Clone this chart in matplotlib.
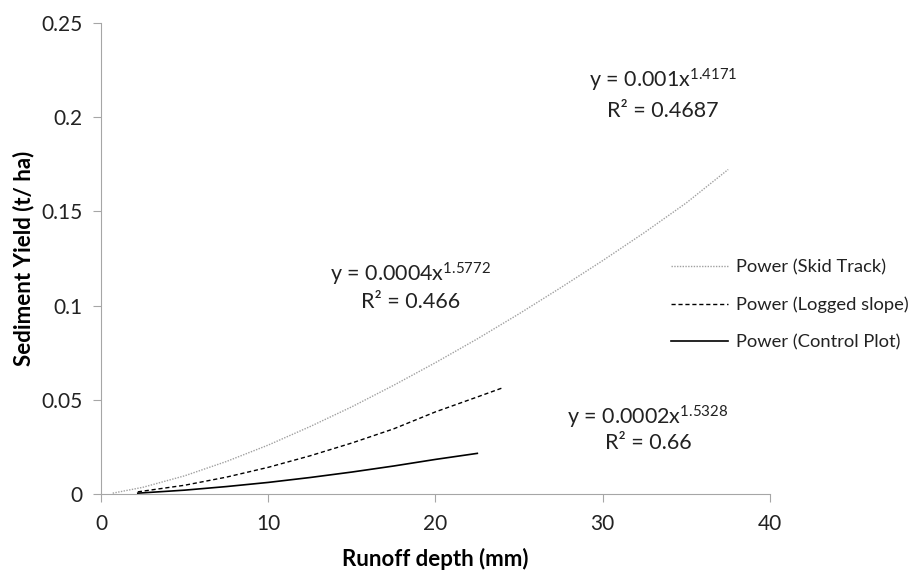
import matplotlib
matplotlib.use("Agg")
import matplotlib.pyplot as plt

plt.rcParams["font.family"] = ["Lato", "DejaVu Sans"]
plt.rcParams["mathtext.fontset"] = "custom"
plt.rcParams["mathtext.rm"] = "Lato"
plt.rcParams["mathtext.it"] = "Lato"

skid_x = [0.7, 2.5, 5, 7.5, 10, 12.5, 15, 17.5, 20, 22.5, 25, 27.5, 30, 32.5, 35, 37.5]
skid_y = [0.0006, 0.0037, 0.0098, 0.0174, 0.0261, 0.0359, 0.0464, 0.0578, 0.0698,
          0.0824, 0.0957, 0.1096, 0.1239, 0.1388, 0.1545, 0.1722]
logged_x = [2.2, 5, 7.5, 10, 12.5, 15, 17.5, 20, 22.5, 24]
logged_y = [0.0013, 0.0048, 0.0091, 0.0143, 0.0204, 0.0272, 0.0347, 0.0437, 0.0516, 0.0564]
control_x = [2.2, 5, 7.5, 10, 12.5, 15, 17.5, 20, 22.5]
control_y = [0.0006, 0.0022, 0.0041, 0.0063, 0.0089, 0.0118, 0.0150, 0.0185, 0.0217]

x_ticks = [0, 10, 20, 30, 40]
y_ticks = [0, 0.05, 0.1, 0.15, 0.2, 0.25]
y_labels = ["0", "0.05", "0.1", "0.15", "0.2", "0.25"]

fig = plt.figure(figsize=(9.2, 5.7), dpi=100)
ax = fig.add_axes([101 / 920, 1 - 494.3 / 570, 669 / 920, 471.6 / 570])

ax.plot(skid_x, skid_y, color="#a0a0a0", lw=1.0, ls=(0, (1, 1)), label="Power (Skid Track)")
ax.plot(logged_x, logged_y, color="black", lw=1.0, ls=(0, (3, 2)), label="Power (Logged slope)")
ax.plot(control_x, control_y, color="black", lw=1.2, label="Power (Control Plot)")

ax.set_xlim(0, 40)
ax.set_ylim(0, 0.25)
ax.set_xticks(x_ticks)
ax.set_yticks(y_ticks)
ax.set_yticklabels(y_labels)
for s in ["top", "right"]:
    ax.spines[s].set_visible(False)
for s in ["left", "bottom"]:
    ax.spines[s].set_color("#a6a6a6")
ax.tick_params(colors="#a6a6a6", labelcolor="#222222", labelsize=15, length=6)
ax.tick_params(axis="x", pad=8)
ax.tick_params(axis="y", pad=7)

ax.set_xlabel("Runoff depth (mm)", fontsize=16, fontweight="bold", labelpad=10)
ax.set_ylabel("Sediment Yield (t/ ha)", fontsize=16, fontweight="bold", labelpad=5)

tk = dict(fontsize=15.5, ha="center", va="center", color="#222222")
ax.text(33.6, 0.2195, r"y = 0.001x$^{1.4171}$", **tk)
ax.text(33.6, 0.2030, "R² = 0.4687", **tk)
ax.text(18.5, 0.1165, r"y = 0.0004x$^{1.5772}$", **tk)
ax.text(18.5, 0.1018, "R² = 0.466", **tk)
ax.text(32.7, 0.0410, r"y = 0.0002x$^{1.5328}$", **tk)
ax.text(32.7, 0.0272, "R² = 0.66", **tk)

fig.legend(loc="upper left", bbox_to_anchor=(664 / 920, 1 - 252 / 570), frameon=False,
           fontsize=13.2, handlelength=3.1, handletextpad=0.45, labelspacing=1.15,
           borderaxespad=0, labelcolor="#222222")

fig.savefig("out.png", dpi=100)
